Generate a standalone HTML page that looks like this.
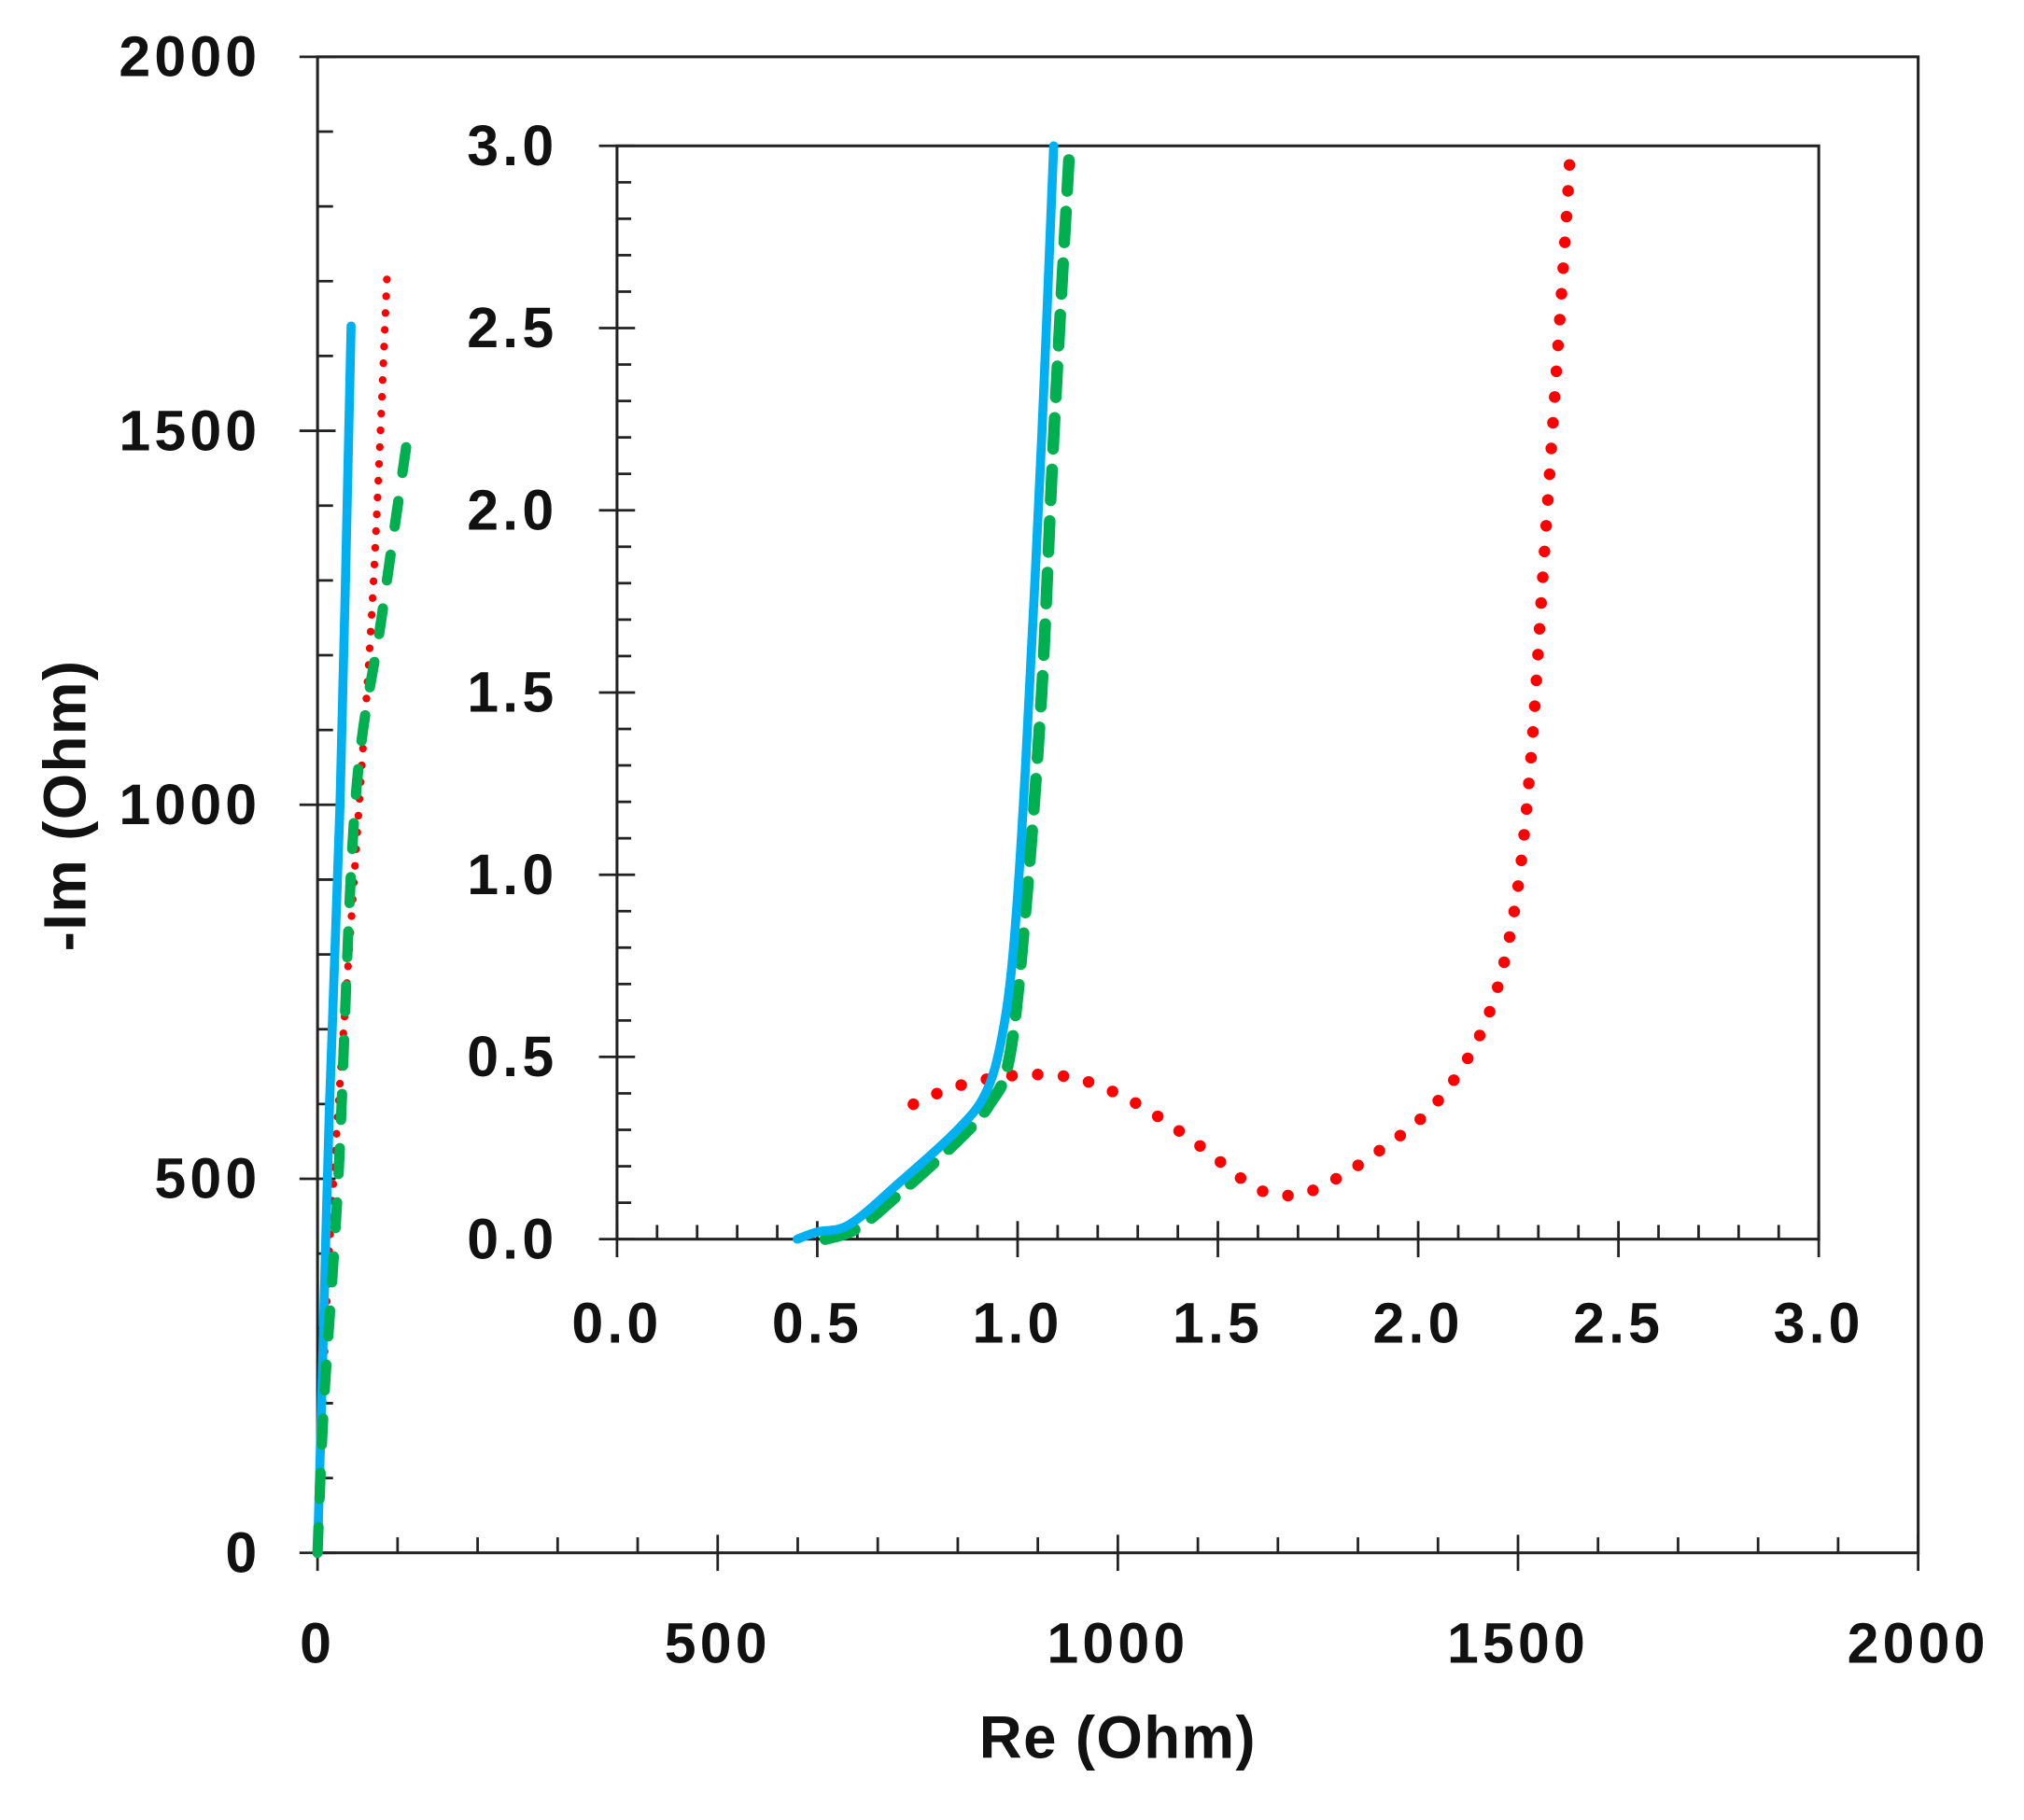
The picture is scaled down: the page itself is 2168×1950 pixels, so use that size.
<!DOCTYPE html>
<html><head><meta charset="utf-8"><style>
html,body{margin:0;padding:0;background:#fff;}
svg{display:block;}
text{font-family:"Liberation Sans",sans-serif;font-weight:bold;fill:#111;}
</style></head><body>
<svg id="chart" width="2168" height="1950" viewBox="0 0 1568 1410" preserveAspectRatio="none" xmlns="http://www.w3.org/2000/svg"></svg>
<script>
// Main plot data (Ohm)
const mainTicks = [0, 500, 1000, 1500, 2000];
const blueMainRe = [0, 5, 15, 28, 42];
const blueMainIm = [0, 200, 600, 1000, 1640];
const redMainRe = [0, 10, 20, 52, 70, 87];
const redMainIm = [0, 300, 500, 1000, 1300, 1710];
const greenMainRe = [0, 8, 26, 47, 80, 111];
const greenMainIm = [0, 200, 500, 1000, 1250, 1480];
// Inset data (Ohm)
const insetTickLabels = ["0.0","0.5","1.0","1.5","2.0","2.5","3.0"];
const insetTicks = [0, 0.5, 1, 1.5, 2, 2.5, 3];
const blueInsetRe = [0.45, 0.5, 0.58, 0.7, 0.85, 0.92, 0.96, 0.99, 1.02, 1.06, 1.09];
const blueInsetIm = [0, 0.02, 0.04, 0.15, 0.30, 0.40, 0.55, 0.8, 1.3, 2.2, 3.0];
const greenInsetRe = [0.52, 0.6, 0.7, 0.85, 0.93, 0.98, 1.02, 1.06, 1.09, 1.13];
const greenInsetIm = [0, 0.03, 0.12, 0.27, 0.37, 0.5, 0.9, 1.5, 2.2, 3.0];
const redInsetRe = [0.74, 0.85, 1.0, 1.15, 1.3, 1.45, 1.58, 1.66, 1.75, 1.9, 2.05, 2.17, 2.24, 2.28, 2.31, 2.34, 2.37, 2.38];
const redInsetIm = [0.37, 0.42, 0.45, 0.44, 0.37, 0.26, 0.15, 0.12, 0.14, 0.24, 0.38, 0.6, 0.9, 1.3, 1.8, 2.3, 2.8, 3.0];

const NS = "http://www.w3.org/2000/svg";
const svg = document.getElementById("chart");
function mk(tag, attrs, parent){const e=document.createElementNS(NS,tag);for(const k in attrs)e.setAttribute(k,attrs[k]);(parent||svg).appendChild(e);return e;}

const mx = v => 246 + (v/2000)*1240;
const my = v => 1203 - (v/2000)*1159;
const ix = v => 478 + (v/3)*931;
const iy = v => 960 - (v/3)*847;

function frame(x0,y0,x1,y1,name){
  const r=mk("rect",{x:x0,y:y0,width:x1-x0,height:y1-y0,fill:"none",stroke:"#222","stroke-width":2.2});
  
  
}
frame(mx(0),my(2000),mx(2000),my(0),"main-plot-frame");

const gm = mk("g",{stroke:"#222","stroke-width":2});


for(let v=0; v<=2000; v+=100){
  const major = v%500===0;
  mk("line",{x1:mx(v),x2:mx(v),y1:my(0)-(major?14:12),y2:my(0)+(major?14:0)},gm);
  mk("line",{y1:my(v),y2:my(v),x1:mx(0)-(major?14:0),x2:mx(0)+(major?14:12)},gm);
}
mainTicks.forEach(v=>{
  const t=mk("text",{x:mx(v),y:1288,"font-size":44,"letter-spacing":3,"text-anchor":"middle"}); t.textContent=String(v);
  
  
  const u=mk("text",{x:202,y:my(v)+15,"font-size":44,"letter-spacing":3,"text-anchor":"end"}); u.textContent=String(v);
  
  
});
const xt=mk("text",{x:866,y:1362,"font-size":46,"letter-spacing":1,"text-anchor":"middle"}); xt.textContent="Re (Ohm)";


const yt=mk("text",{x:0,y:0,"font-size":46,"letter-spacing":1,"text-anchor":"middle",transform:"translate(66,624) rotate(-90)"}); yt.textContent="-Im (Ohm)";



function smoothPath(pts){
  let d="M"+pts[0][0].toFixed(1)+","+pts[0][1].toFixed(1);
  for(let i=0;i<pts.length-1;i++){
    const p0=pts[Math.max(0,i-1)],p1=pts[i],p2=pts[i+1],p3=pts[Math.min(pts.length-1,i+2)];
    const c1=[p1[0]+(p2[0]-p0[0])/6,p1[1]+(p2[1]-p0[1])/6];
    const c2=[p2[0]-(p3[0]-p1[0])/6,p2[1]-(p3[1]-p1[1])/6];
    d+=" C"+c1.map(n=>n.toFixed(1)).join(",")+" "+c2.map(n=>n.toFixed(1)).join(",")+" "+p2[0].toFixed(1)+","+p2[1].toFixed(1);
  }
  return d;
}
function series(xs,ys,fx,fy,style,name){
  const pts = xs.map((v,i)=>[fx(v),fy(ys[i])]);
  const p = mk("path",Object.assign({d:smoothPath(pts),fill:"none","stroke-linejoin":"round"},style));
  
  
}
const blueS={stroke:"#00b0f0","stroke-width":7,"stroke-linecap":"round"};
const greenS={stroke:"#00b050","stroke-width":8,"stroke-linecap":"round","stroke-dasharray":"20 22"};
const redS={stroke:"#ff0000","stroke-width":9,"stroke-linecap":"round","stroke-dasharray":"0 20"};
const redMainS={stroke:"#ff0000","stroke-width":6,"stroke-linecap":"round","stroke-dasharray":"0 13"};
series(redMainRe,redMainIm,mx,my,redMainS,"red-series-main");
series(blueMainRe,blueMainIm,mx,my,blueS,"blue-series-main");
series(greenMainRe,greenMainIm,mx,my,greenS,"green-series-main");

const bg=mk("rect",{x:ix(0),y:iy(3),width:ix(3)-ix(0),height:iy(0)-iy(3),fill:"#fff"});


frame(ix(0),iy(3),ix(3),iy(0),"inset-plot-frame");
const gi = mk("g",{stroke:"#222","stroke-width":2});


for(let k=0;k<=30;k++){
  const v=k/10, major=k%5===0;
  mk("line",{x1:ix(v),x2:ix(v),y1:iy(0)-(major?14:11),y2:iy(0)+(major?14:0)},gi);
  mk("line",{y1:iy(v),y2:iy(v),x1:ix(0)-(major?14:0),x2:ix(0)+(major?14:11)},gi);
}
insetTicks.forEach((v,i)=>{
  const t=mk("text",{x:ix(v),y:1040,"font-size":44,"letter-spacing":3,"text-anchor":"middle"}); t.textContent=insetTickLabels[i];
  
  
  const u=mk("text",{x:432,y:iy(v)+15,"font-size":44,"letter-spacing":3,"text-anchor":"end"}); u.textContent=insetTickLabels[i];
  
  
});
series(redInsetRe,redInsetIm,ix,iy,redS,"red-series-inset");
series(greenInsetRe,greenInsetIm,ix,iy,Object.assign({},greenS,{"stroke-width":9,"stroke-dasharray":"24 16"}),"green-series-inset");
series(blueInsetRe,blueInsetIm,ix,iy,blueS,"blue-series-inset");
</script>
</body></html>
